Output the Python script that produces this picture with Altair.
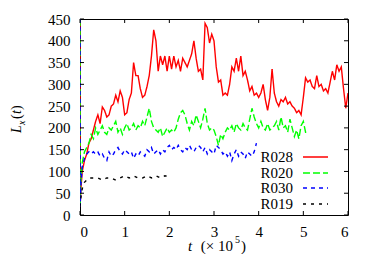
import altair as alt
import pandas as pd

SERIES = ["R028", "R020", "R030", "R019"]
COLORS = ["#ff0000", "#00ff00", "#0000ff", "#000000"]
DASHES = [[1, 0], [7, 3], [4, 4], [3, 5]]

# early-time points (t in units of 1e5)
R028_T0 = [0.0, 0.003, 0.02]
R028_V0 = [450, 20, 60]
# sampled every 0.05 starting at 0.05
R028_V = [100, 125, 140, 165, 175, 195, 215, 230, 210, 248, 240, 225, 230, 250, 255, 275, 260, 285, 270, 230,
          235, 265, 280, 350, 320, 320, 290, 270, 275, 295, 320, 365, 425, 400, 330, 365, 345, 365, 330, 365,
          335, 365, 340, 355, 330, 360, 350, 340, 355, 370, 400, 360, 330, 335, 310, 440, 430, 395, 415, 400,
          340, 305, 310, 275, 280, 275, 300, 340, 330, 360, 330, 365, 320, 330, 310, 285, 295, 275, 280, 270,
          280, 300, 265, 240, 270, 335, 280, 260, 250, 265, 260, 270, 255, 260, 250, 245, 235, 240, 230, 270,
          315, 305, 310, 295, 290, 320, 295, 300, 285, 290, 280, 305, 330, 310, 345, 330, 340, 290, 245, 280]

R020_T0 = [0.0, 0.003, 0.02]
R020_V0 = [450, 20, 80]
R020_V = [120, 145, 155, 165, 185, 175, 200, 185, 195, 205, 190, 185, 200, 195, 205, 215, 190, 200, 185, 200,
          210, 195, 200, 210, 195, 205, 200, 215, 205, 225, 245, 215, 200, 195, 190, 200, 180, 190, 200, 190,
          195, 190, 200, 220, 235, 240, 230, 210, 195, 215, 205, 230, 215, 200, 220, 245, 210, 195, 200, 195,
          180, 160, 185, 175, 190, 200, 195, 205, 190, 210, 200, 195, 210, 200, 195, 220, 245, 225, 210, 200,
          215, 200, 195, 210, 195, 200, 205, 215, 195, 225, 200, 205, 190, 220, 200, 180, 195, 175, 205, 215,
          190, 190]

R030_T0 = [0.0, 0.003, 0.02]
R030_V0 = [450, 20, 70]
R030_V = [110, 130, 140, 145, 140, 145, 140, 145, 135, 140, 130, 125, 145, 135, 140, 150, 155, 145, 140, 150,
          145, 140, 145, 130, 140, 135, 145, 140, 135, 150, 145, 155, 140, 145, 150, 140, 150, 145, 155, 160,
          150, 155, 150, 160, 150, 145, 155, 150, 160, 150, 145, 155, 160, 155, 145, 155, 140, 150, 145, 140,
          160, 155, 150, 140, 145, 135, 145, 125, 140, 150, 135, 145, 140, 130, 145, 140, 135, 145, 165]

R019_T0 = [0.0, 0.02, 0.05]
R019_V0 = [20, 40, 60]
# sampled every 0.1 starting at 0.1
R019_V = [75, 85, 85, 85, 80, 85, 85, 80, 85, 90, 85, 90, 85, 85, 90, 85, 90, 85, 90, 88]

X_TICKS = [0, 1, 2, 3, 4, 5, 6]
Y_TICKS = [0, 50, 100, 150, 200, 250, 300, 350, 400, 450]

W, H = 268, 196
FONT = "Liberation Serif"
FS = 15


def build(t0, v0, vals, start, step):
    t = list(t0) + [round(start + i * step, 3) for i in range(len(vals))]
    return pd.DataFrame({"t": t, "L": list(v0) + list(vals)})


frames = [
    build(R028_T0, R028_V0, R028_V, 0.05, 0.05),
    build(R020_T0, R020_V0, R020_V, 0.05, 0.05),
    build(R030_T0, R030_V0, R030_V, 0.05, 0.05),
    build(R019_T0, R019_V0, R019_V, 0.1, 0.1),
]

xscale = alt.Scale(domain=[0, 6], nice=False, zero=False)
yscale = alt.Scale(domain=[0, 450], nice=False, zero=False)
xaxis = alt.Axis(values=X_TICKS, ticks=False, domain=False, grid=False, labelPadding=9, format="d",
                 labelFont=FONT, labelFontSize=FS, labelColor="black", title=None)
yaxis = alt.Axis(values=Y_TICKS, ticks=False, domain=False, grid=False, labelPadding=10, format="d",
                 labelFont=FONT, labelFontSize=FS, labelColor="black", title=None)

layers = []
for i, (name, df) in enumerate(zip(SERIES, frames)):
    layers.append(
        alt.Chart(df).mark_line(color=COLORS[i], strokeDash=DASHES[i], strokeWidth=1.4, clip=True).encode(
            x=alt.X("t:Q", scale=xscale, axis=xaxis, title=None),
            y=alt.Y("L:Q", scale=yscale, axis=yaxis, title=None),
        )
    )

ydf = pd.DataFrame({"v": Y_TICKS})
xdf = pd.DataFrame({"v": X_TICKS})
tick_style = dict(color="black", strokeWidth=1)
for a, b in [(0, 4), (W, W - 4)]:
    layers.append(alt.Chart(ydf).mark_rule(**tick_style).encode(
        y=alt.Y("v:Q", scale=yscale, axis=yaxis, title=None), x=alt.value(a), x2=alt.value(b)))
for a, b in [(H, H - 4), (0, 4)]:
    layers.append(alt.Chart(xdf).mark_rule(**tick_style).encode(
        x=alt.X("v:Q", scale=xscale, axis=xaxis, title=None), y=alt.value(a), y2=alt.value(b)))

# legend (gnuplot style: label left of sample)
leg_y = [138, 154, 169, 185]
for i, name in enumerate(SERIES):
    layers.append(alt.Chart(pd.DataFrame({"s": [name]})).mark_text(
        font=FONT, fontSize=FS, align="right", baseline="middle", color="black").encode(
        text="s:N", x=alt.value(213), y=alt.value(leg_y[i])))
    layers.append(alt.Chart(pd.DataFrame({"s": [name]})).mark_rule(
        color=COLORS[i], strokeDash=DASHES[i], strokeWidth=1.4).encode(
        x=alt.value(223), x2=alt.value(248), y=alt.value(leg_y[i])))


def txt(s, x, y, italic=False, size=FS, angle=0, align="left"):
    return alt.Chart(pd.DataFrame({"s": [s]})).mark_text(
        font=FONT, fontSize=size, fontStyle="italic" if italic else "normal", align=align,
        baseline="alphabetic", angle=angle, color="black").encode(
        text="s:N", x=alt.value(x), y=alt.value(y))


# y title L_x(t), rotated
layers += [
    txt("L", -59, 114, italic=True, size=14, angle=270),
    txt("x", -55, 106, italic=True, size=10, angle=270),
    txt("(", -59, 100, size=14, angle=270),
    txt("t", -59, 95, italic=True, size=14, angle=270),
    txt(")", -59, 91, size=14, angle=270),
]

# x title t (x 10^5)
layers += [
    txt("t", 108, 232, italic=True),
    txt("(× 10", 153, 232, align="right"),
    txt("5", 155, 224, size=10),
    txt(")", 161, 232),
]

chart = alt.layer(*layers).properties(
    width=W, height=H,
    autosize=alt.AutoSizeParams(type="none"),
    padding={"left": 72, "top": 11, "right": 18, "bottom": 39},
).configure_view(stroke="black", strokeWidth=1)

chart.save("out.html", embed_options={"renderer": "svg", "actions": False})
